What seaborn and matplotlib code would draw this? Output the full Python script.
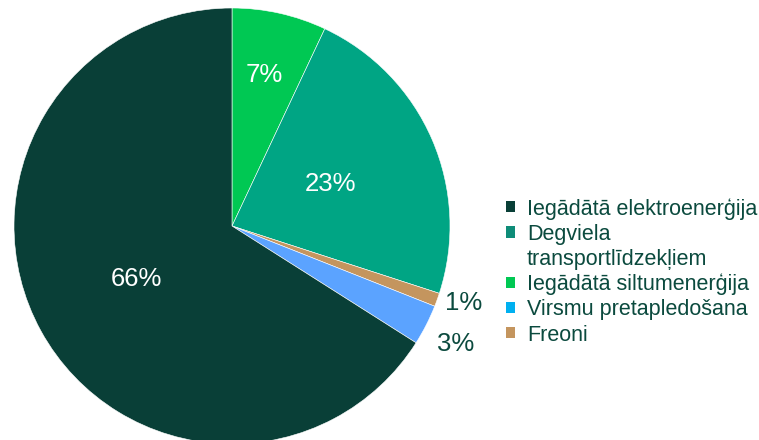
import numpy as np
import matplotlib.pyplot as plt
import seaborn as sns
from matplotlib.patches import Patch

# slices in drawing order (clockwise from the top)
slice_names = [
    "Iegādātā siltumenerģija",
    "Degviela transportlīdzekļiem",
    "Freoni",
    "Virsmu pretapledošana",
    "Iegādātā elektroenerģija",
]
slice_values = [7, 23, 1, 3, 66]
slice_colors = ["#00C853", "#00A584", "#C4955E", "#5BA3FF", "#093F37"]

# legend rows (the long label wraps onto a second row without a swatch)
legend_names = [
    "Iegādātā elektroenerģija",
    "Degviela",
    "transportlīdzekļiem",
    "Iegādātā siltumenerģija",
    "Virsmu pretapledošana",
    "Freoni",
]
legend_colors = ["#093F37", "#0E8C78", "none", "#00C853", "#00B0F0", "#C4955E"]

sns.set_theme(style="white")
plt.rcParams["font.family"] = ["Liberation Sans", "DejaVu Sans"]

text_dark = "#0B4A3E"

fig = plt.figure(figsize=(7.59, 4.40), dpi=100)
ax = fig.add_axes([14 / 759, -4 / 440, 436 / 759, 436 / 440])

wedges, _ = ax.pie(
    slice_values,
    colors=slice_colors,
    startangle=90,
    counterclock=False,
    radius=1,
    wedgeprops=dict(edgecolor="white", linewidth=0.4),
)
ax.set_xlim(-1, 1)
ax.set_ylim(-1, 1)
ax.set_aspect("auto")

# label distance (fraction of radius), angle nudge and colour per slice
label_dist = [0.71, 0.49, 1.12, 1.16, 0.50]
angle_shift = [0.5, 0, 1.4, -0.9, 0]
label_color = ["white", "white", text_dark, text_dark, "white"]
for w, v, d, c, s in zip(wedges, slice_values, label_dist, label_color, angle_shift):
    mid = np.deg2rad((w.theta1 + w.theta2) / 2 + s)
    ax.text(d * np.cos(mid), d * np.sin(mid), f"{v}%", ha="center", va="center",
            color=c, fontsize=18.5, clip_on=False)

handles = [Patch(facecolor=c, edgecolor="none") for c in legend_colors]
leg = fig.legend(
    handles, legend_names,
    loc="upper left",
    bbox_to_anchor=(491 / 759, 1 - 183 / 440),
    frameon=False,
    fontsize=15.5,
    handlelength=0.42,
    handleheight=0.42,
    handletextpad=0.55,
    labelspacing=0.19,
    borderpad=0.2,
)
for t in leg.get_texts():
    t.set_color(text_dark)

fig.savefig("out.png", dpi=100)
